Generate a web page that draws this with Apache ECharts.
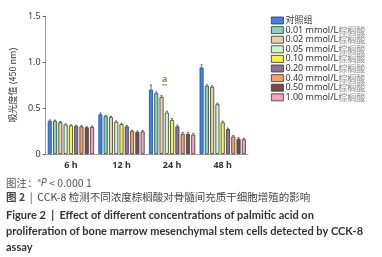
<!DOCTYPE html>
<html>
<head>
<meta charset="utf-8">
<script src="https://cdn.jsdelivr.net/npm/echarts@6/dist/echarts.min.js"></script>
<style>
  html, body { margin: 0; padding: 0; background: #fff; }
  #chart { width: 382px; height: 257px; }
</style>
</head>
<body>
<div id="chart"></div>
<script>
  // 时间点
  const categories = ['6 h', '12 h', '24 h', '48 h'];
  const groups = ['对照组', '0.01 mmol/L 棕榈酸', '0.02 mmol/L 棕榈酸', '0.05 mmol/L 棕榈酸', '0.10 mmol/L 棕榈酸',
    '0.20 mmol/L 棕榈酸', '0.40 mmol/L 棕榈酸', '0.50 mmol/L 棕榈酸', '1.00 mmol/L 棕榈酸'];
  const colors = ['#3d82e6', '#7fd8bb', '#e9d2a0', '#cff7cb', '#f7f43a', '#8c7394', '#f7a062', '#7b4a4a', '#f2a3c2'];

  // 吸光度值，每组 4 个时间点
  const ctrl = [0.36, 0.43, 0.70, 0.94];
  const pa001 = [0.36, 0.41, 0.66, 0.74];
  const pa002 = [0.345, 0.40, 0.62, 0.73];
  const pa005 = [0.32, 0.35, 0.45, 0.54];
  const pa010 = [0.31, 0.325, 0.37, 0.345];
  const pa020 = [0.305, 0.30, 0.30, 0.27];
  const pa040 = [0.30, 0.25, 0.22, 0.19];
  const pa050 = [0.29, 0.24, 0.22, 0.165];
  const pa100 = [0.295, 0.245, 0.21, 0.16];
  const values = [ctrl, pa001, pa002, pa005, pa010, pa020, pa040, pa050, pa100];

  // 误差
  const ctrlErr = [0.01, 0.015, 0.05, 0.03];
  const otherErr = [0.008, 0.01, 0.015, 0.012];

  const yTicks = ['0', '0.5', '1.0', '1.5'];

  const myChart = echarts.init(document.getElementById('chart'));

  const barW = 4;
  const barGapPct = 0.32;

  const series = values.map((v, i) => ({
    name: groups[i],
    type: 'bar',
    data: v,
    barWidth: barW,
    barGap: (barGapPct * 100) + '%',
    itemStyle: { color: colors[i], borderColor: i === 0 ? '#1f4f9a' : '#3a3a3a', borderWidth: 0.8 }
  }));

  // 误差线
  const errData = [];
  values.forEach((v, i) => {
    v.forEach((val, c) => {
      errData.push([c, val, i === 0 ? ctrlErr[c] : otherErr[c], i]);
    });
  });
  series.push({
    type: 'custom',
    silent: true,
    z: 5,
    renderItem: function (params, api) {
      const c = api.value(0), val = api.value(1), err = api.value(2), idx = api.value(3);
      const step = barW * (1 + barGapPct);
      const off = (idx - (groups.length - 1) / 2) * step;
      const p0 = api.coord([c, val]);
      const p1 = api.coord([c, val + err]);
      const x = p0[0] + off;
      const st = { stroke: '#444', lineWidth: 0.8 };
      return {
        type: 'group',
        children: [
          { type: 'line', shape: { x1: x, y1: p0[1], x2: x, y2: p1[1] }, style: st },
          { type: 'line', shape: { x1: x - 1, y1: p1[1], x2: x + 1, y2: p1[1] }, style: st }
        ]
      };
    },
    encode: { x: 0, y: 1 },
    data: errData
  });

  // 显著性标记
  series.push({
    type: 'scatter',
    symbolSize: 0,
    silent: true,
    data: [[2, 0.68]],
    label: {
      show: true,
      position: 'top',
      formatter: '{a|a}\n{l|}',
      offset: [-7.5, 0],
      rich: {
        a: { color: '#8a6a1c', fontSize: 9, fontWeight: 'bold', fontFamily: 'Noto Sans', lineHeight: 9 },
        l: { width: 5, height: 1, backgroundColor: '#555', lineHeight: 3 }
      }
    }
  });

  const option = {
    animation: false,
    color: colors,
    legend: {
      data: groups,
      orient: 'vertical',
      left: 266,
      top: 11,
      itemWidth: 12,
      itemHeight: 7,
      itemGap: 0.6,
      icon: 'rect',
      itemStyle: { borderColor: '#333', borderWidth: 0.8 },
      formatter: function (name) {
        const k = name.indexOf(' 棕榈酸');
        if (k < 0) return '{b|' + name + '}';
        return '{b|' + name.slice(0, k) + '}{g|棕榈酸}';
      },
      textStyle: {
        padding: [0, 0, 0, -3],
        rich: {
          b: { fontSize: 9, color: '#333', fontFamily: 'Noto Sans, Noto Sans CJK SC' },
          g: { fontSize: 9, color: '#888', fontFamily: 'Noto Sans CJK SC' }
        }
      }
    },
    grid: { left: 40, top: 16, width: 208, height: 138 },
    xAxis: {
      type: 'category',
      data: categories,
      axisLine: { lineStyle: { color: '#999' } },
      axisTick: { alignWithLabel: true, length: 4, lineStyle: { color: '#666' } },
      axisLabel: { fontSize: 9, color: '#333', fontWeight: 'bold', margin: 7, fontFamily: 'Noto Sans' }
    },
    yAxis: {
      type: 'value',
      min: 0,
      max: 1.5,
      interval: 0.5,
      name: '吸光度值 (450 nm)',
      nameLocation: 'middle',
      nameGap: 24,
      nameTextStyle: { fontSize: 9, color: '#333', fontFamily: 'Noto Sans CJK SC' },
      splitLine: { show: false },
      axisLine: { show: true, lineStyle: { color: '#999' } },
      axisTick: { show: true, length: 3, lineStyle: { color: '#666' } },
      axisLabel: {
        fontSize: 9, color: '#333', margin: 5, fontFamily: 'Noto Sans',
        formatter: (v) => yTicks[Math.round(v / 0.5)]
      }
    },
    graphic: [
      {
        type: 'text', left: 6, top: 177,
        style: {
          text: '{z|图注：}{s|a}{i|P}{z| < 0.000 1}',
          rich: {
            z: { fontSize: 10.5, fill: '#555', fontFamily: 'Noto Sans CJK SC' },
            s: { fontSize: 6, fill: '#555', fontFamily: 'Noto Sans', verticalAlign: 'top', padding: [0, 0, 6, 0] },
            i: { fontSize: 10.5, fill: '#555', fontStyle: 'italic', fontFamily: 'Noto Sans' }
          }
        }
      },
      {
        type: 'text', left: 6, top: 192,
        style: {
          text: '{b|图 2}{z|  |  CCK-8 检测不同浓度棕榈酸对骨髓间充质干细胞增殖的影响}',
          rich: {
            b: { fontSize: 10.5, fill: '#444', fontWeight: 'bold', fontFamily: 'Noto Sans CJK SC' },
            z: { fontSize: 10.5, fill: '#444', fontFamily: 'Noto Sans CJK SC' }
          }
        }
      },
      {
        type: 'text', left: 6, top: 207,
        style: {
          text: 'Figure 2  |  Effect of different concentrations of palmitic acid on\nproliferation of bone marrow mesenchymal stem cells detected by CCK-8\nassay',
          fontSize: 11, lineHeight: 16, fill: '#333', fontWeight: 'bold', fontFamily: 'Lato'
        }
      }
    ],
    series: series
  };

  myChart.setOption(option);
</script>
</body>
</html>
